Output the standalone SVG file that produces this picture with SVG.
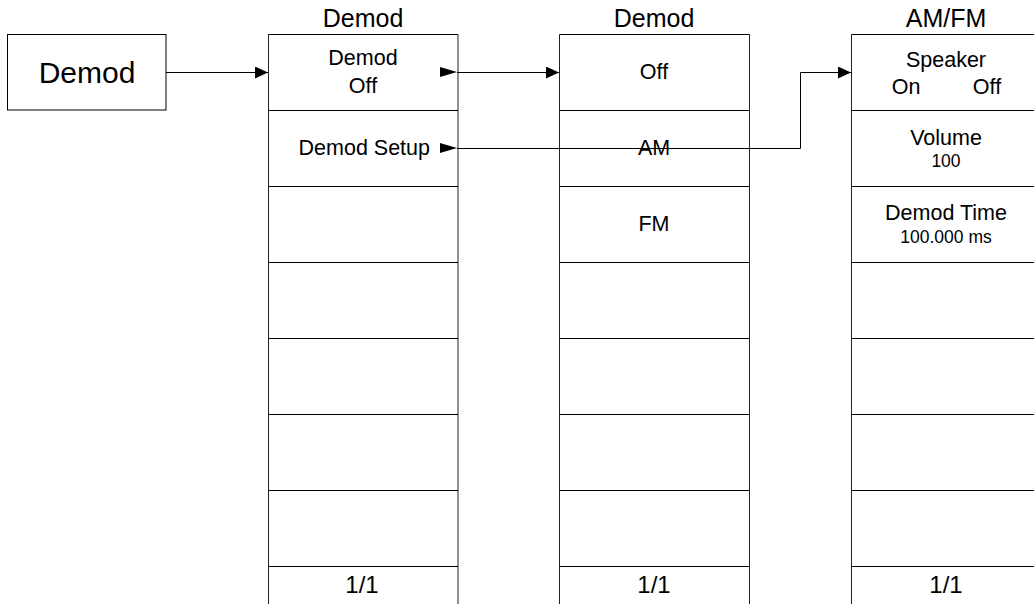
<svg xmlns="http://www.w3.org/2000/svg" width="1034" height="604" viewBox="0 0 1034 604">
<style>
text{font-family:"Liberation Sans",Arial,sans-serif;fill:#000;text-anchor:middle}
.cell{fill:#fff;stroke:#000;stroke-width:1}
.col{fill:none;stroke:#222;stroke-width:1}
.row{stroke:#000;stroke-width:1.2}
.t{font-size:25px}
.m{font-size:21.5px}
.s{font-size:17.5px}
.p{font-size:24px}
.big{font-size:30px}
.wire{fill:none;stroke:#000;stroke-width:1}
.tri{fill:#000}
</style>
<defs>
<marker id="ah" markerWidth="14" markerHeight="12" refX="13" refY="6" orient="auto" markerUnits="userSpaceOnUse">
<path d="M0,0 L13,6 L0,12 Z" fill="#000"/>
</marker>
</defs>
<rect width="1034" height="604" fill="#fff"/>

<g id="demod-key">
<rect class="cell" x="7.5" y="34.5" width="158.5" height="75.5"/>
<text class="big" x="87" y="83">Demod</text>
</g>

<g id="menu-demod">
<text class="t" x="363" y="27">Demod</text>
<path class="col" d="M268.5,34.5 V604 M458,34.5 V604"/>
<path class="row" d="M268.5,34.5 H458 M268.5,110.5 H458 M268.5,186.5 H458 M268.5,262.5 H458 M268.5,338.5 H458 M268.5,414.5 H458 M268.5,490.5 H458 M268.5,566.5 H458"/>
<text class="m" x="363" y="65">Demod</text>
<text class="m" x="363" y="93">Off</text>
<polygon class="tri" points="440,67 457,72 440,77"/>
<text class="m" x="430" y="155" style="text-anchor:end">Demod Setup</text>
<polygon class="tri" points="440,143 457,148 440,153"/>
<text class="p" x="362" y="593">1/1</text>
</g>

<g id="menu-type">
<text class="t" x="654" y="27">Demod</text>
<path class="col" d="M559.5,34.5 V604 M749.5,34.5 V604"/>
<path class="row" d="M559.5,34.5 H749.5 M559.5,110.5 H749.5 M559.5,186.5 H749.5 M559.5,262.5 H749.5 M559.5,338.5 H749.5 M559.5,414.5 H749.5 M559.5,490.5 H749.5 M559.5,566.5 H749.5"/>
<text class="m" x="654" y="79">Off</text>
<text class="m" x="654" y="155">AM</text>
<text class="m" x="654" y="231">FM</text>
<text class="p" x="654" y="593">1/1</text>
</g>

<g id="menu-amfm">
<text class="t" x="946" y="27">AM/FM</text>
<path class="col" d="M851.5,34.5 V604 M1041,34.5 V604"/>
<path class="row" d="M851.5,34.5 H1041 M851.5,110.5 H1041 M851.5,186.5 H1041 M851.5,262.5 H1041 M851.5,338.5 H1041 M851.5,414.5 H1041 M851.5,490.5 H1041 M851.5,566.5 H1041"/>
<text class="m" x="946" y="67">Speaker</text>
<text class="m" x="906" y="94">On</text>
<text class="m" x="987" y="94">Off</text>
<text class="m" x="946" y="145">Volume</text>
<text class="s" x="946" y="167">100</text>
<text class="m" x="946" y="220">Demod Time</text>
<text class="s" x="946" y="243">100.000 ms</text>
<text class="p" x="946" y="593">1/1</text>
</g>

<g id="connectors">
<path class="wire" d="M166,72.5 H268" marker-end="url(#ah)"/>
<path class="wire" d="M457,72.5 H559" marker-end="url(#ah)"/>
<path class="wire" d="M457,148.5 H800.5 V72.5 H851" marker-end="url(#ah)"/>
</g>
</svg>
